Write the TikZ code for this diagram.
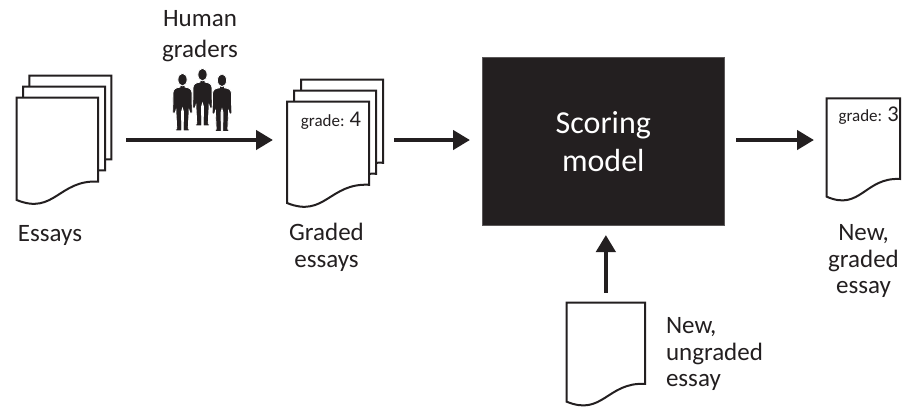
\documentclass[tikz,border=0pt]{standalone}
\usepackage{fontspec}
\setmainfont{Carlito}
\usetikzlibrary{arrows.meta}
\definecolor{ink}{HTML}{231F20}
\newcommand\docpage[4]{%
  \draw[page] (#1,#2) -- ({#1+#3},#2) -- ({#1+#3},{#2+0.82*#4})
    .. controls ({#1+0.52*#3},{#2+0.80*#4}) and ({#1+0.46*#3},{#2+1.15*#4}) .. (#1,{#2+#4}) -- cycle;}
\newcommand\grader[2]{%
  \begin{scope}[shift={(#1,#2)}]
    \filldraw[person] (-2.3,12) -- (-2.5,13.8) .. controls (-7,14.5) and (-9,15.5) .. (-9.4,19)
      -- (-9.8,39) .. controls (-9.5,41) and (-7.5,41) .. (-7.2,39) -- (-6.6,37) -- (-5.8,55)
      -- (-7.5,57.5) -- (-0.8,57.5) -- (-0.9,38) -- (0,35) -- (0.9,38) -- (0.8,57.5) -- (7.5,57.5)
      -- (5.8,55) -- (6.6,37) -- (7.2,39) .. controls (7.5,41) and (9.5,41) .. (9.8,39)
      -- (9.4,19) .. controls (9,15.5) and (7,14.5) .. (2.5,13.8) -- (2.3,12) -- cycle;
    \filldraw[person] (0,6.3) ellipse [x radius=4.6, y radius=6.3];
  \end{scope}}
\begin{document}
\begin{tikzpicture}[x=1pt,y=-1pt,
  page/.style={draw=ink, line width=2pt, fill=white, line join=miter},
  arr/.style={draw=ink, line width=4.7pt, -{Triangle[length=17pt,width=19pt]}},
  holder/.style={draw=none, inner sep=0pt, outer sep=0pt},
  lbl/.style={font=\fontsize{25}{26.7}\selectfont, inner sep=0pt, outer sep=0pt, text=ink},
  person/.style={fill=ink, draw=white, line width=0.8pt}
]
\useasboundingbox[fill=white] (0,0) rectangle (904,408);

% invisible holders for the document groups
\node[holder, minimum width=94.3pt, minimum height=128pt] (essays) at (63.85,140) {};
\node[holder, minimum width=95.7pt, minimum height=126pt] (graded) at (334.85,140) {};
\node[holder, minimum width=73.5pt, minimum height=105pt] (newgraded) at (863.45,140) {};
\node[holder, minimum width=78.3pt, minimum height=100pt] (ungraded) at (605.85,352.7) {};

% essays stack
\docpage{29.3}{75.7}{82}{102}
\docpage{23}{86.7}{82}{102}
\docpage{16.7}{97.7}{81.3}{102.3}
\node[lbl, anchor=base] (essaystext) at (50,241.7) {Essays};

% human graders
\grader{202.5}{68.3}
\grader{182.5}{73.3}
\grader{222}{74}
\node[lbl, anchor=base, align=center, font=\fontsize{25}{30.6}\selectfont] (gradertext) at (200,57.3) {Human\\graders};

% graded essays stack
\docpage{301}{79.7}{82}{101.3}
\docpage{294}{90.7}{82}{101.3}
\docpage{287}{101.7}{82}{101.3}
\node[anchor=base west, inner sep=0pt, text=ink] (grade4) at (300.7,126.7)
  {\fontsize{17}{20}\selectfont grade: \fontsize{22.5}{24}\selectfont 4};
\node[lbl, anchor=base, align=center, font=\fontsize{25}{27}\selectfont] (gradedtext) at (326.5,267) {Graded\\essays};

% scoring model
\node[draw=ink!75!white, line width=0.8pt, fill=ink, minimum width=242pt, minimum height=168.4pt,
  inner sep=0pt, outer sep=0pt, text=white, align=center, font=\fontsize{32}{38.7}\selectfont]
  (model) at (603.3,141.5) {Scoring\\model};

% new graded essay
\docpage{826.7}{98.3}{73.5}{98.4}
\node[anchor=base west, inner sep=0pt, text=ink] (grade3) at (838.3,121.7)
  {\fontsize{17}{20}\selectfont grade: \fontsize{22.5}{24}\selectfont 3};
\node[lbl, anchor=base, align=center, font=\fontsize{25}{26.3}\selectfont] (newgradedtext) at (863.5,293.3) {New,\\graded\\essay};

% new ungraded essay
\docpage{566.7}{302.7}{78.3}{99}
\node[lbl, anchor=base west, align=left, font=\fontsize{25}{26.7}\selectfont] (ungradedtext) at (666,386.7) {New,\\ungraded\\essay};

% connectors
\draw[arr, shorten <=15pt, shorten >=14pt] (essays.east) -- (essays.east -| graded.west);
\draw[arr, shorten <=11.3pt, shorten >=12.3pt] (graded.east) -- (graded.east -| model.west);
\draw[arr, shorten <=11.7pt, shorten >=12.7pt] (model.east |- newgraded.west) -- (newgraded.west);
\draw[arr, shorten <=10pt, shorten >=9.3pt] (ungraded.north) -- (ungraded.north |- model.south);
\end{tikzpicture}
\end{document}
